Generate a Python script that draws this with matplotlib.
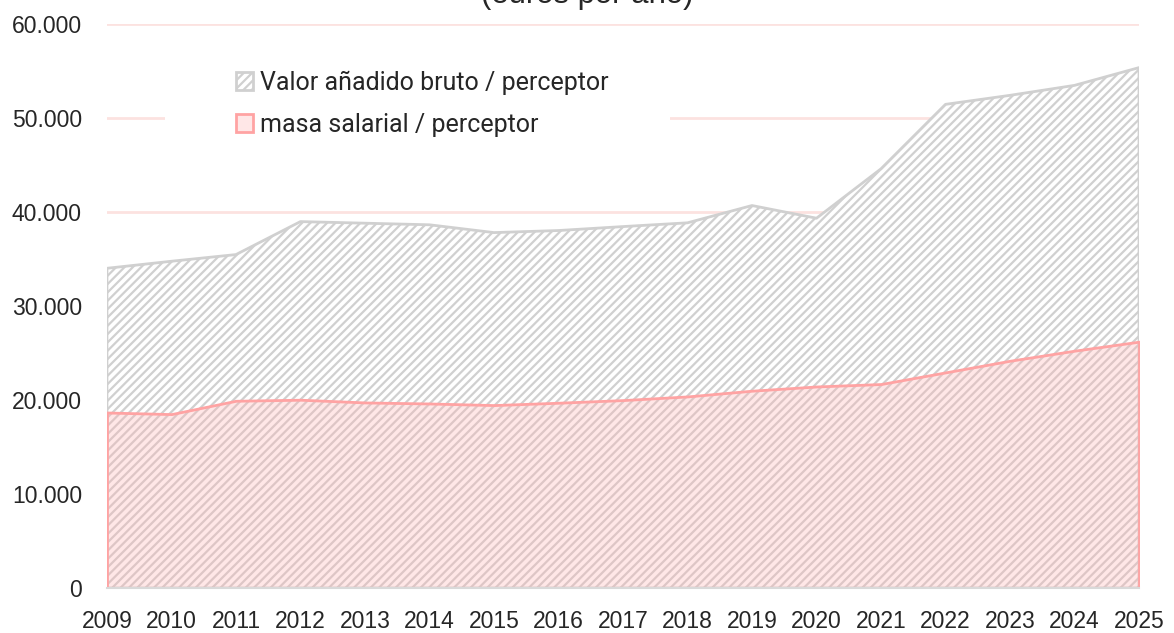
import matplotlib
matplotlib.use("Agg")
import matplotlib.pyplot as plt
from matplotlib.patches import Rectangle
from matplotlib.ticker import FuncFormatter

# data (euros por año)
years = list(range(2009, 2026))
vab_perceptor = [34030, 34780, 35490, 39000, 38830, 38660, 37830, 38050, 38470,
                 38870, 40710, 39360, 44620, 51480, 52440, 53500, 55390]
masa_perceptor = [18680, 18510, 19930, 20040, 19750, 19640, 19470, 19720, 20000,
                  20390, 21000, 21450, 21710, 22950, 24190, 25260, 26220]
yticks = [0, 10000, 20000, 30000, 40000, 50000, 60000]
labels = ["Valor añadido bruto / perceptor", "masa salarial / perceptor"]
title = "(euros por año)"

plt.rcParams["hatch.linewidth"] = 1.6
plt.rcParams["font.family"] = ["Liberation Sans", "DejaVu Sans"]

fig = plt.figure(figsize=(11.74, 6.33), dpi=100)
ax = fig.add_axes([0.0911, 0.0711, 0.8791, 0.8905])

grey = "#d0d0d0"
pink_edge = "#ffa3a3"
text_col = "#262626"

# areas
vab = ax.fill_between(years, 0, vab_perceptor, facecolor="white", edgecolor=grey,
                      hatch="////", linewidth=2, zorder=2, label=labels[0])
masa = ax.fill_between(years, 0, masa_perceptor, facecolor=(1.0, 0.69, 0.69, 0.3),
                       edgecolor=pink_edge, linewidth=2, zorder=3, label=labels[1])

ax.set_xlim(years[0], years[-1])
ax.set_ylim(yticks[0], yticks[-1])
ax.set_xticks(years)
ax.set_yticks(yticks)
ax.yaxis.set_major_formatter(FuncFormatter(lambda v, p: f"{v:,.0f}".replace(",", ".")))
ax.tick_params(axis="both", length=0, labelsize=16.5, labelcolor=text_col)
ax.tick_params(axis="y", pad=18)
ax.tick_params(axis="x", pad=16)

ax.set_axisbelow(True)
ax.grid(axis="y", color="#fce2e0", linewidth=2)
for s in ["left", "right", "top"]:
    ax.spines[s].set_visible(False)
ax.spines["bottom"].set_color("#d9d9d9")
ax.spines["bottom"].set_linewidth(1.5)
ax.spines["bottom"].set_zorder(4)

# white legend background hiding the gridline
ax.add_patch(Rectangle((0.056, 0.767), 0.49, 0.187, transform=ax.transAxes,
                       facecolor="white", edgecolor="none", zorder=1))

leg = ax.legend(handles=[vab, masa], loc="upper left", bbox_to_anchor=(0.1246, 0.918),
                frameon=False, borderaxespad=0, borderpad=0,
                prop={"family": ["Roboto", "DejaVu Sans"], "size": 18},
                handlelength=0.68, handleheight=0.68, handletextpad=0.3,
                labelspacing=0.72)
for t in leg.get_texts():
    t.set_color(text_col)

fig.text(0.5, 1 - 3.5 / 633, title, ha="center", va="baseline",
         fontsize=22.4, color=text_col)

fig.savefig("out.png", dpi=100)
